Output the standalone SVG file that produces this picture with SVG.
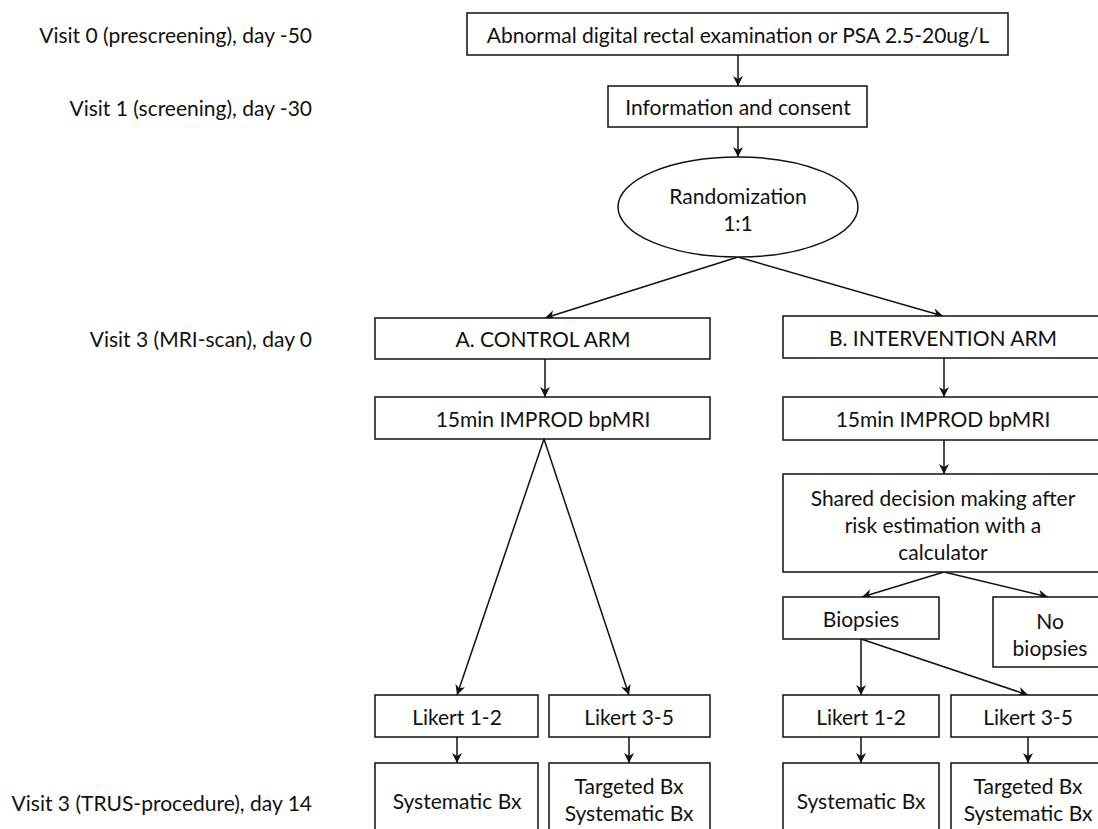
<svg xmlns="http://www.w3.org/2000/svg" width="1098" height="829" viewBox="0 0 1098 829">
<style>
text{font-family:Lato,"Liberation Sans",sans-serif;font-size:21px;fill:#111;}
.c{text-anchor:middle;dominant-baseline:central;}
.l{text-anchor:end;dominant-baseline:central;}
.b{fill:#fff;stroke:#111;stroke-width:1.5;}
.e{fill:none;stroke:#111;stroke-width:1.5;marker-end:url(#ah);}
</style>
<defs>
<marker id="ah" viewBox="0 0 10 10" refX="10" refY="5" markerWidth="10" markerHeight="10" markerUnits="userSpaceOnUse" orient="auto">
<path d="M0,0 L10,5 L0,10 L3,5 z" fill="#111"/>
</marker>
</defs>
<rect width="1098" height="829" fill="#fff"/>
<g id="labels">
<text class="l" x="312" y="34">Visit 0 (prescreening), day -50</text>
<text class="l" x="312" y="107">Visit 1 (screening), day -30</text>
<text class="l" x="312" y="338">Visit 3 (MRI-scan), day 0</text>
<text class="l" x="312" y="802">Visit 3 (TRUS-procedure), day 14</text>
</g>
<g id="connectors">
<line class="e" x1="738" y1="55" x2="738" y2="86"/>
<line class="e" x1="738" y1="127" x2="738" y2="157"/>
<line class="e" x1="738" y1="257" x2="545" y2="318"/>
<line class="e" x1="738" y1="257" x2="943" y2="316"/>
<line class="e" x1="545" y1="359" x2="545" y2="397"/>
<line class="e" x1="944" y1="358" x2="944" y2="397"/>
<line class="e" x1="944" y1="440" x2="944" y2="474"/>
<line class="e" x1="544" y1="439" x2="457" y2="695"/>
<line class="e" x1="544" y1="439" x2="629" y2="695"/>
<line class="e" x1="944" y1="572" x2="862" y2="597"/>
<line class="e" x1="944" y1="572" x2="1048" y2="597"/>
<line class="e" x1="861" y1="639" x2="861" y2="695"/>
<line class="e" x1="861" y1="639" x2="1028" y2="695"/>
<line class="e" x1="457" y1="737" x2="457" y2="763"/>
<line class="e" x1="629" y1="737" x2="629" y2="763"/>
<line class="e" x1="861" y1="737" x2="861" y2="763"/>
<line class="e" x1="1028" y1="737" x2="1028" y2="763"/>
</g>
<g id="n-start"><rect class="b" x="467" y="13" width="541" height="42"/><text class="c" x="738" y="34">Abnormal digital rectal examination or PSA 2.5-20ug/L</text></g>
<g id="n-consent"><rect class="b" x="608" y="86" width="259" height="41"/><text class="c" x="738" y="106">Information and consent</text></g>
<g id="n-random"><ellipse class="b" cx="738" cy="207" rx="120" ry="50"/><text class="c" x="738" y="195">Randomization</text><text class="c" x="738" y="222">1:1</text></g>
<g id="n-armA"><rect class="b" x="375" y="318" width="335" height="41"/><text class="c" x="543" y="338">A. CONTROL ARM</text></g>
<g id="n-mriA"><rect class="b" x="375" y="397" width="335" height="42"/><text class="c" x="543" y="418">15min IMPROD bpMRI</text></g>
<g id="n-armB"><rect class="b" x="783" y="316" width="335" height="42"/><text class="c" x="943" y="337">B. INTERVENTION ARM</text></g>
<g id="n-mriB"><rect class="b" x="783" y="397" width="335" height="43"/><text class="c" x="943" y="418">15min IMPROD bpMRI</text></g>
<g id="n-shared"><rect class="b" x="783" y="474" width="335" height="98"/><text class="c" x="943" y="497">Shared decision making after</text><text class="c" x="943" y="524">risk estimation with a</text><text class="c" x="943" y="551">calculator</text></g>
<g id="n-biop"><rect class="b" x="783" y="597" width="156" height="42"/><text class="c" x="861" y="618">Biopsies</text></g>
<g id="n-nobiop"><rect class="b" x="993" y="597" width="125" height="70"/><text class="c" x="1050" y="620">No</text><text class="c" x="1050" y="647">biopsies</text></g>
<g id="n-lA12"><rect class="b" x="375" y="695" width="163" height="42"/><text class="c" x="457" y="716">Likert 1-2</text></g>
<g id="n-lA35"><rect class="b" x="549" y="695" width="161" height="42"/><text class="c" x="629" y="716">Likert 3-5</text></g>
<g id="n-lB12"><rect class="b" x="783" y="695" width="156" height="42"/><text class="c" x="861" y="716">Likert 1-2</text></g>
<g id="n-lB35"><rect class="b" x="951" y="695" width="167" height="42"/><text class="c" x="1028" y="716">Likert 3-5</text></g>
<g id="n-sysA"><rect class="b" x="375" y="763" width="163" height="80"/><text class="c" x="457" y="800">Systematic Bx</text></g>
<g id="n-tgtA"><rect class="b" x="549" y="763" width="161" height="80"/><text class="c" x="629" y="785">Targeted Bx</text><text class="c" x="629" y="812">Systematic Bx</text></g>
<g id="n-sysB"><rect class="b" x="783" y="763" width="156" height="80"/><text class="c" x="861" y="800">Systematic Bx</text></g>
<g id="n-tgtB"><rect class="b" x="951" y="763" width="167" height="80"/><text class="c" x="1028" y="785">Targeted Bx</text><text class="c" x="1028" y="812">Systematic Bx</text></g>
</svg>
